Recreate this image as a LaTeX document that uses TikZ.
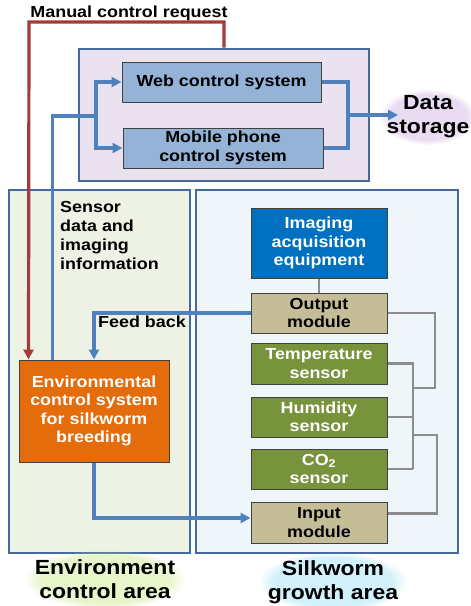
\documentclass[tikz,border=0pt]{standalone}
\usepackage{fontspec}
\setmainfont{Liberation Sans}[FakeStretch=1.12]
\usepackage{xcolor}
\usetikzlibrary{shapes, arrows.meta, positioning, fadings}

\definecolor{arealine}{HTML}{44699B}
\definecolor{cloudfill}{HTML}{EAE3EF}
\definecolor{envfill}{HTML}{EEF2E4}
\definecolor{silkfill}{HTML}{EEF6FA}
\definecolor{sysfill}{HTML}{95B3D7}
\definecolor{camfill}{HTML}{0070C0}
\definecolor{modfill}{HTML}{C4BD97}
\definecolor{sensfill}{HTML}{77933C}
\definecolor{ctrlfill}{HTML}{E46C0A}
\definecolor{flowblue}{HTML}{4F81BD}
\definecolor{reqred}{HTML}{A33B3B}
\definecolor{wiregrey}{HTML}{8C8C8C}
\definecolor{glowviolet}{HTML}{C9A6DC}
\definecolor{glowgreen}{HTML}{C6E77E}
\definecolor{glowcyan}{HTML}{8FDDF5}

\tikzset{
  area/.style={draw=arealine, line width=2.6pt},
  block/.style={draw=black!75, line width=1pt, align=center, inner sep=0pt,
    minimum width=136, minimum height=40,
    font=\bfseries\fontsize{16}{18.5}\selectfont},
  flow/.style={draw=flowblue, line width=3.2pt},
  flowarrow/.style={flow, -{Triangle[length=10pt,width=10pt]}},
  wire/.style={draw=wiregrey, line width=2.6pt},
  lbl/.style={inner sep=0pt, align=left, font=\bfseries\fontsize{16}{19}\selectfont},
  biglabel/.style={inner sep=0pt, align=center, font=\bfseries\fontsize{20.5}{24}\selectfont},
  glow/.style={fill=#1, opacity=0.4, path fading=circle with fuzzy edge 20 percent}
}

\begin{document}
\begin{tikzpicture}[x=1pt,y=-1pt]
  \useasboundingbox[fill=white] (0,0) rectangle (471,606);

  % the three areas
  \node[area, fill=cloudfill, minimum width=290, minimum height=132] at (224,115) (cloud) {};
  \node[area, fill=envfill, minimum width=181, minimum height=363] at (99.5,371.5) (envarea) {};
  \node[area, fill=silkfill, minimum width=262, minimum height=363] at (327,371.5) (silkarea) {};

  % remote control
  \node[block, fill=sysfill, minimum width=199] at (221.5,82) (web) {Web control system};
  \node[block, fill=sysfill, minimum width=200] at (223,148) (mobile) {Mobile phone\\control system};

  % silkworm growth area
  \node[block, fill=camfill, text=white, minimum height=70] at (319,243) (camera) {Imaging\\acquisition\\equipment};
  \node[block, fill=modfill] at (319,313) (output) {Output\\module};
  \node[block, fill=sensfill, text=white, minimum height=41] at (319,363.5) (temp) {Temperature\\sensor};
  \node[block, fill=sensfill, text=white] at (319,417) (humid) {Humidity\\sensor};
  \node[block, fill=sensfill, text=white] at (319,469) (co2) {CO\textsubscript{2}\\sensor};
  \node[block, fill=modfill, minimum height=41] at (319,522.5) (input) {Input\\module};

  % environment control
  \node[block, fill=ctrlfill, text=white, minimum width=150, minimum height=102] at (94,411) (envsys) {Environmental\\control system\\for silkworm\\breeding};

  % texts
  \node[lbl] at (129,13) (reqtext) {Manual control request};
  \node[lbl, anchor=north west] at (60,201) (sensortext) {Sensor\\data and\\imaging\\information};
  \node[lbl, anchor=west] at (98,322) (feedtext) {Feed back};

  % glowing area labels
  \fill[glow=glowviolet] (428,117) ellipse (48 and 28);
  \fill[glow=glowgreen] (105,579) ellipse (80 and 30);
  \fill[glow=glowcyan] (333,582) ellipse (74 and 30);
  \node[biglabel] at (428,117) (store) {Data\\storage};
  \node[biglabel] at (105,579) (envlabel) {Environment\\control area};
  \node[biglabel] at (333,582) (silklabel) {Silkworm\\growth area};

  \coordinate (reqcorner) at (29,22);
  \coordinate (split) at (96,116);
  \coordinate (merge) at (348,115);
  \coordinate (storein) at (398,115);
  \coordinate (bustop) at (413,363);
  \coordinate (busbot) at (413,469);
  \coordinate (outjoin) at (435,388);
  \coordinate (injoin) at (437,435);

  % manual control request
  \draw[draw=reqred, line width=3.2pt, -{Triangle[length=10pt,width=10pt]}]
    (cloud.north) |- (reqcorner) -- ([xshift=10pt]envsys.north west);

  % sensor data up to the control systems
  \draw[flow] ([xshift=34pt]envsys.north west) |- (split);
  \draw[flowarrow] (split) |- (web.west);
  \draw[flowarrow] (split) |- (mobile.west);
  \draw[flow] (web.east) -| (merge);
  \draw[flow] (mobile.east) -| (merge);
  \draw[flowarrow] (merge) -- (storein);

  % feed back and control
  \draw[flowarrow] (output.west) -| (envsys.north);
  \draw[flowarrow] (envsys.south) |- ([yshift=4.5pt]input.west);

  % grey wiring
  \draw[wire] (camera.south) -- (output.north);
  \draw[wire] (temp.east) -| (busbot);
  \draw[wire] (humid.east) -- (humid.east -| bustop);
  \draw[wire] (co2.east) -- (co2.east -| bustop);
  \draw[wire] (output.east) -| (outjoin) -- (outjoin -| bustop);
  \draw[wire] ([yshift=9pt]input.east) -| (injoin) -- (injoin -| bustop);
\end{tikzpicture}
\end{document}
